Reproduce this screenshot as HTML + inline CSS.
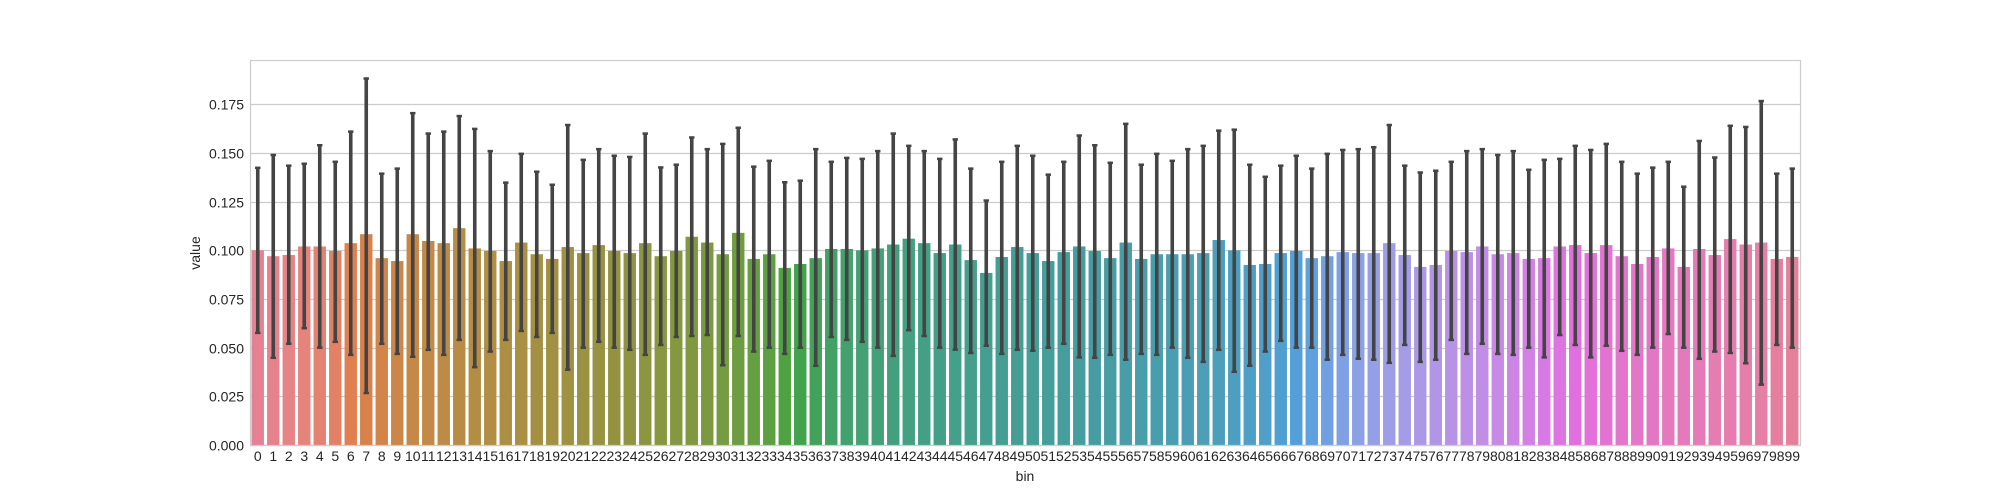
<!DOCTYPE html>
<html><head><meta charset="utf-8"><style>
html,body{margin:0;padding:0;background:#fff;}
svg{display:block;font-family:"Liberation Sans","DejaVu Sans",sans-serif;}
</style></head><body>
<svg id="chart" width="2000" height="500" xmlns="http://www.w3.org/2000/svg">
<rect x="0" y="0" width="2000" height="500" fill="#fff"/>
<g id="grid"></g>
<g id="bars"></g>
<g id="errs"></g>
<rect x="250.5" y="60.5" width="1550" height="385" fill="none" stroke="#cccccc" stroke-width="1.2"/>
<g id="yticks"></g>
<g id="xticks"></g>
<text x="0" y="0" transform="translate(200,253) rotate(-90)" text-anchor="middle" font-size="14" fill="#262626">value</text>
<text x="1025" y="481" text-anchor="middle" font-size="14" fill="#262626">bin</text>
</svg>
<script>
const means = [0.100,0.097,0.0976,0.102,0.102,0.0997,0.1037,0.1083,0.096,0.0945,
0.1083,0.1048,0.1037,0.1114,0.101,0.0997,0.0945,0.104,0.098,0.0956,
0.1017,0.0986,0.1027,0.0997,0.0986,0.1037,0.097,0.0997,0.107,0.104,
0.098,0.109,0.0956,0.098,0.091,0.093,0.096,0.1007,0.1007,0.100,
0.101,0.103,0.106,0.1037,0.0986,0.103,0.095,0.0884,0.0966,0.1017,
0.0986,0.0945,0.0991,0.102,0.0997,0.096,0.104,0.0956,0.098,0.098,
0.098,0.0986,0.1053,0.100,0.0925,0.093,0.0986,0.0997,0.096,0.097,
0.0991,0.0986,0.0986,0.1037,0.0976,0.0915,0.0925,0.0997,0.0991,0.102,
0.098,0.0986,0.0956,0.096,0.102,0.1027,0.0986,0.1027,0.097,0.093,
0.0966,0.101,0.0915,0.1007,0.0976,0.1058,0.103,0.104,0.0956,0.0966];
const ciLow = [0.0576,0.0448,0.052,0.060,0.050,0.053,0.0463,0.0267,0.052,0.0468,
0.0453,0.0489,0.0463,0.054,0.040,0.048,0.054,0.0586,0.0555,0.0576,
0.0387,0.050,0.053,0.050,0.0489,0.0463,0.0514,0.0555,0.056,0.0565,
0.041,0.056,0.048,0.050,0.0468,0.050,0.0407,0.0555,0.054,0.053,
0.050,0.0458,0.059,0.056,0.050,0.049,0.0473,0.051,0.0468,0.0489,
0.0484,0.050,0.052,0.045,0.0448,0.0463,0.0438,0.0468,0.0463,0.050,
0.0448,0.0427,0.0489,0.0376,0.0407,0.048,0.0535,0.050,0.050,0.0438,
0.0463,0.0443,0.0438,0.0422,0.0514,0.0427,0.0438,0.054,0.0468,0.052,
0.0468,0.0463,0.050,0.045,0.0565,0.0514,0.045,0.051,0.0484,0.0463,
0.050,0.057,0.050,0.0443,0.048,0.0473,0.042,0.031,0.0514,0.050];
const ciHigh = [0.1424,0.149,0.1435,0.1445,0.154,0.1455,0.161,0.1883,0.1394,0.142,
0.1705,0.160,0.161,0.169,0.1624,0.151,0.1348,0.1496,0.1404,0.1337,
0.1644,0.1465,0.152,0.1486,0.148,0.160,0.1426,0.144,0.158,0.152,
0.1547,0.163,0.143,0.146,0.135,0.1358,0.152,0.1455,0.1475,0.147,
0.151,0.160,0.1537,0.151,0.147,0.157,0.142,0.1256,0.1455,0.1537,
0.1486,0.1389,0.1455,0.159,0.154,0.145,0.165,0.144,0.1496,0.146,
0.152,0.1537,0.1615,0.162,0.144,0.1378,0.1435,0.1486,0.142,0.1496,
0.1516,0.152,0.153,0.1644,0.1435,0.140,0.1409,0.1455,0.151,0.152,
0.149,0.151,0.1414,0.1465,0.147,0.1537,0.1516,0.1547,0.1455,0.1394,
0.1425,0.1455,0.1327,0.1562,0.1477,0.164,0.1634,0.1767,0.1394,0.142];
const yTickValues = [0,0.025,0.05,0.075,0.1,0.125,0.15,0.175];
const yTickLabels = ["0.000","0.025","0.050","0.075","0.100","0.125","0.150","0.175"];

const NS="http://www.w3.org/2000/svg";
const X0=250,X1=1800,Y0=445,Y1=60,YMAX=0.1978;
const n=means.length;
const band=(X1-X0)/n;
function xScale(i){return X0+(i+0.5)*band;}
function yScale(v){return Y0-(v/YMAX)*(Y0-Y1);}
function mk(tag,attrs,parent){const e=document.createElementNS(NS,tag);for(const k in attrs)e.setAttribute(k,attrs[k]);parent.appendChild(e);return e;}

// HUSL -> RGB
const M=[[3.240969941904521,-1.537383177570093,-0.498610760293],[-0.96924363628087,1.87596750150772,0.041555057407175],[0.055630079696993,-0.20397695888897,1.056971514242878]];
const refU=0.19783000664283,refV=0.46831999493879,kappa=903.2962962,eps=0.0088564516;
function bounds(L){const s1=Math.pow(L+16,3)/1560896;const s2=s1>eps?s1:L/kappa;const r=[];
for(const m of M){const[m1,m2,m3]=m;for(const t of[0,1]){const top1=(284517*m1-94839*m3)*s2;const top2=(838422*m3+769860*m2+731718*m1)*L*s2-769860*t*L;const bot=(632260*m3-126452*m2)*s2+126452*t;r.push([top1/bot,top2/bot]);}}return r;}
function maxC(L,H){const h=H/360*2*Math.PI;let mn=Infinity;for(const[sl,ic] of bounds(L)){const len=ic/(Math.sin(h)-sl*Math.cos(h));if(len>=0)mn=Math.min(mn,len);}return mn;}
function husl(H,S,L){const C=maxC(L,H)/100*S;const hr=H/360*2*Math.PI;const U=C*Math.cos(hr),V=C*Math.sin(hr);
const vu=U/(13*L)+refU,vv=V/(13*L)+refV;const Y=L<=8?L/kappa:Math.pow((L+16)/116,3);
const Xx=-(9*Y*vu)/((vu-4)*vv-vu*vv);const Z=(9*Y-15*vv*Y-vv*Xx)/(3*vv);
return M.map(m=>{let c=m[0]*Xx+m[1]*Y+m[2]*Z;c=c<=0.0031308?12.92*c:1.055*Math.pow(c,1/2.4)-0.055;return Math.min(1,Math.max(0,c));});}
function desat(rgb,p){const[r,g,b]=rgb;const mx=Math.max(r,g,b),mn=Math.min(r,g,b);const l=(mx+mn)/2;let h=0,s=0;
if(mx!==mn){const d=mx-mn;s=l<=0.5?d/(mx+mn):d/(2-mx-mn);const rc=(mx-r)/d,gc=(mx-g)/d,bc=(mx-b)/d;
if(r===mx)h=bc-gc;else if(g===mx)h=2+rc-bc;else h=4+gc-rc;h=(h/6)%1;if(h<0)h+=1;}
s*=p;const m2=l<=0.5?l*(1+s):l+s-l*s;const m1=2*l-m2;
function v(hh){hh=((hh%1)+1)%1;if(hh<1/6)return m1+(m2-m1)*hh*6;if(hh<0.5)return m2;if(hh<2/3)return m1+(m2-m1)*(2/3-hh)*6;return m1;}
return s===0?[l,l,l]:[v(h+1/3),v(h),v(h-1/3)];}
function color(i){const h=((i/n)+0.01)%1*359;const c=desat(husl(h,89.1,64.35),0.75);return "rgb("+c.map(x=>Math.round(x*255)).join(",")+")";}

const grid=document.getElementById('grid'),bars=document.getElementById('bars'),errs=document.getElementById('errs'),yt=document.getElementById('yticks'),xt=document.getElementById('xticks');
yTickValues.forEach((v,k)=>{const y=Math.round(yScale(v))+0.5;
const gl=mk('line',{x1:X0,x2:X1,y1:y,y2:y,stroke:'#cccccc','stroke-width':1.2},grid);


const t=mk('text',{x:244,y:y+5,'text-anchor':'end','font-size':14,fill:'#262626'},yt);


t.textContent=yTickLabels[k];});
const bw=band*0.8;
for(let i=0;i<n;i++){const cx=xScale(i);
const r=mk('rect',{x:cx-bw/2,y:yScale(means[i]),width:bw,height:Y0-yScale(means[i]),fill:color(i)},bars);


const g=mk('g',{stroke:'#444444','stroke-width':3.6,'stroke-linecap':'butt'},errs);


mk('line',{x1:cx,x2:cx,y1:yScale(ciLow[i]),y2:yScale(ciHigh[i])},g);
mk('line',{x1:cx-2.7,x2:cx+2.7,y1:yScale(ciLow[i]),y2:yScale(ciLow[i]),'stroke-width':2.5},g);
mk('line',{x1:cx-2.7,x2:cx+2.7,y1:yScale(ciHigh[i]),y2:yScale(ciHigh[i]),'stroke-width':2.5},g);
const t=mk('text',{x:cx,y:461,'text-anchor':'middle','font-size':14,fill:'#262626'},xt);


t.textContent=String(i);}
</script>
</body></html>
